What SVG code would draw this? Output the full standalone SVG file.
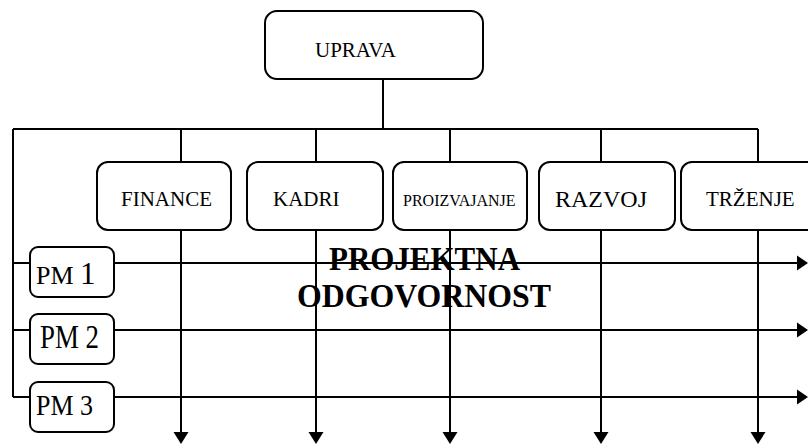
<svg xmlns="http://www.w3.org/2000/svg" width="808" height="444" viewBox="0 0 808 444">
<style>
.ln{fill:none;stroke:#000;stroke-width:2}
.bx{fill:#fff;stroke:#000;stroke-width:2}
.t{font-family:"Liberation Serif","Times New Roman",serif;fill:#000}
.ah{fill:#000}
</style>
<rect width="808" height="444" fill="#fff"/>
<g id="connectors">
<path class="ln" d="M383 79V129M13 129H758M181 129V162M316 129V162M450 129V162M601 129V162M758 129V162M13 129V397"/>
<path class="ln" d="M13 263H797M13 330H797M13 397H797"/>
<path class="ln" d="M181 230V432M316 230V432M450 230V432M601 230V432M758 230V432"/>
<polygon class="ah" points="797,255.5 797,270.5 808,263"/>
<polygon class="ah" points="797,322.5 797,337.5 808,330"/>
<polygon class="ah" points="797,389.5 797,404.5 808,397"/>
<polygon class="ah" points="173.5,432 188.5,432 181,444"/>
<polygon class="ah" points="308.5,432 323.5,432 316,444"/>
<polygon class="ah" points="442.5,432 457.5,432 450,444"/>
<polygon class="ah" points="593.5,432 608.5,432 601,444"/>
<polygon class="ah" points="750.5,432 765.5,432 758,444"/>
</g>
<g id="uprava"><rect class="bx" x="265" y="11" width="218" height="68" rx="12"/><text class="t" x="315" y="57" font-size="21">UPRAVA</text></g>
<g id="finance"><rect class="bx" x="97" y="162" width="134" height="68" rx="11"/><text class="t" x="121" y="206" font-size="21">FINANCE</text></g>
<g id="kadri"><rect class="bx" x="247" y="162" width="136" height="68" rx="11"/><text class="t" x="273" y="206" font-size="21">KADRI</text></g>
<g id="proizvajanje"><rect class="bx" x="393" y="162" width="134" height="68" rx="11"/><text class="t" x="403" y="206" font-size="16">PROIZVAJANJE</text></g>
<g id="razvoj"><rect class="bx" x="539" y="162" width="136" height="68" rx="11"/><text class="t" x="555" y="207" font-size="24">RAZVOJ</text></g>
<g id="trzenje"><rect class="bx" x="681" y="162" width="140" height="68" rx="11"/><text class="t" x="706" y="206" font-size="21">TRŽENJE</text></g>
<g id="pm1"><rect class="bx" x="30" y="247" width="84" height="50" rx="8"/><text class="t" x="36" y="284" font-size="26">PM <tspan font-size="31">1</tspan></text></g>
<g id="pm2"><rect class="bx" x="30" y="314" width="84" height="50" rx="8"/><text class="t" x="40" y="348" font-size="34" textLength="59" lengthAdjust="spacingAndGlyphs">PM 2</text></g>
<g id="pm3"><rect class="bx" x="30" y="382" width="84" height="50" rx="8"/><text class="t" x="36" y="415" font-size="29" textLength="57" lengthAdjust="spacingAndGlyphs">PM 3</text></g>
<g id="label">
<text class="t" x="329" y="270" font-size="34" font-weight="bold" textLength="191" lengthAdjust="spacingAndGlyphs">PROJEKTNA</text>
<text class="t" x="297" y="307" font-size="33" font-weight="bold" textLength="254" lengthAdjust="spacingAndGlyphs">ODGOVORNOST</text>
</g>
</svg>
